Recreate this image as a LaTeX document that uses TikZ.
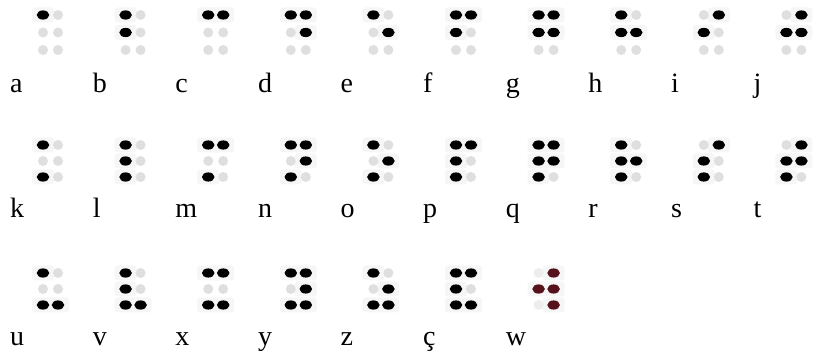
\documentclass[tikz,border=0pt]{standalone}
\usepackage{fontspec}
\setmainfont{Liberation Serif}
\definecolor{wred}{RGB}{85,18,28}
\tikzset{
  letter/.style={anchor=base west, inner sep=0pt, font=\fontsize{28}{32}\selectfont},
  halo/.style={fill=gray!7, rounded corners=3pt},
  emptydot/.style={fill=gray!25},
  lightdot/.style={fill=gray!14},
}
% #1 x of left column, #2 y of top row, #3 row step, #4 pattern (6 values, dots 1..6), #5 colour, #6 empty style
\newcommand\BrCell[6]{%
  \foreach \v [count=\i from 0] in {#4} {%
    \pgfmathsetmacro\cx{#1+15*int(\i/3)}%
    \pgfmathsetmacro\cy{#2+#3*mod(\i,3)}%
    \ifnum\v=1 \fill[halo] (\cx-11,\cy-7.5) rectangle (\cx+11,\cy+7.5);\fi
  }%
  \foreach \v [count=\i from 0] in {#4} {%
    \pgfmathsetmacro\cx{#1+15*int(\i/3)}%
    \pgfmathsetmacro\cy{#2+#3*mod(\i,3)}%
    \ifnum\v=0 \fill[#6] (\cx,\cy) circle (5);\fi
  }%
  \foreach \v [count=\i from 0] in {#4} {%
    \pgfmathsetmacro\cx{#1+15*int(\i/3)}%
    \pgfmathsetmacro\cy{#2+#3*mod(\i,3)}%
    \ifnum\v=1 \fill[#5] (\cx,\cy) ellipse (6.3 and 4.6);\fi
  }%
}
\begin{document}
\begin{tikzpicture}[x=1pt,y=-1pt]
\useasboundingbox (0,0) rectangle (817,355);
% ---- row 1 ----
\BrCell{43}{15}{17.5}{1,0,0,0,0,0}{black}{emptydot}
\BrCell{125.6}{15}{17.5}{1,1,0,0,0,0}{black}{emptydot}
\BrCell{208.2}{15}{17.5}{1,0,0,1,0,0}{black}{emptydot}
\BrCell{290.8}{15}{17.5}{1,0,0,1,1,0}{black}{emptydot}
\BrCell{373.4}{15}{17.5}{1,0,0,0,1,0}{black}{emptydot}
\BrCell{456}{15}{17.5}{1,1,0,1,0,0}{black}{emptydot}
\BrCell{538.6}{15}{17.5}{1,1,0,1,1,0}{black}{emptydot}
\BrCell{621.2}{15}{17.5}{1,1,0,0,1,0}{black}{emptydot}
\BrCell{703.8}{15}{17.5}{0,1,0,1,0,0}{black}{emptydot}
\BrCell{786.4}{15}{17.5}{0,1,0,1,1,0}{black}{emptydot}
\node[letter] (la) at (10,93) {a};
\node[letter] (lb) at (92.6,93) {b};
\node[letter] (lc) at (175.2,93) {c};
\node[letter] (ld) at (257.8,93) {d};
\node[letter] (le) at (340.4,93) {e};
\node[letter] (lf) at (423,93) {f};
\node[letter] (lg) at (505.6,93) {g};
\node[letter] (lh) at (588.2,93) {h};
\node[letter] (li) at (670.8,93) {i};
\node[letter] (lj) at (753.4,93) {j};
% ---- row 2 ----
\BrCell{43}{145}{16}{1,0,1,0,0,0}{black}{emptydot}
\BrCell{125.6}{145}{16}{1,1,1,0,0,0}{black}{emptydot}
\BrCell{208.2}{145}{16}{1,0,1,1,0,0}{black}{emptydot}
\BrCell{290.8}{145}{16}{1,0,1,1,1,0}{black}{emptydot}
\BrCell{373.4}{145}{16}{1,0,1,0,1,0}{black}{emptydot}
\BrCell{456}{145}{16}{1,1,1,1,0,0}{black}{emptydot}
\BrCell{538.6}{145}{16}{1,1,1,1,1,0}{black}{emptydot}
\BrCell{621.2}{145}{16}{1,1,1,0,1,0}{black}{emptydot}
\BrCell{703.8}{145}{16}{0,1,1,1,0,0}{black}{emptydot}
\BrCell{786.4}{145}{16}{0,1,1,1,1,0}{black}{emptydot}
\node[letter] (lk) at (10,218) {k};
\node[letter] (ll) at (92.6,218) {l};
\node[letter] (lm) at (175.2,218) {m};
\node[letter] (ln) at (257.8,218) {n};
\node[letter] (lo) at (340.4,218) {o};
\node[letter] (lp) at (423,218) {p};
\node[letter] (lq) at (505.6,218) {q};
\node[letter] (lr) at (588.2,218) {r};
\node[letter] (ls) at (670.8,218) {s};
\node[letter] (lt) at (753.4,218) {t};
% ---- row 3 ----
\BrCell{43}{273}{16}{1,0,1,0,0,1}{black}{emptydot}
\BrCell{125.6}{273}{16}{1,1,1,0,0,1}{black}{emptydot}
\BrCell{208.2}{273}{16}{1,0,1,1,0,1}{black}{emptydot}
\BrCell{290.8}{273}{16}{1,0,1,1,1,1}{black}{emptydot}
\BrCell{373.4}{273}{16}{1,0,1,0,1,1}{black}{emptydot}
\BrCell{456}{273}{16}{1,1,1,1,0,1}{black}{emptydot}
\BrCell{538.6}{273}{16}{0,1,0,1,1,1}{wred}{lightdot}
\node[letter] (lu) at (10,346) {u};
\node[letter] (lv) at (92.6,346) {v};
\node[letter] (lx) at (175.2,346) {x};
\node[letter] (ly) at (257.8,346) {y};
\node[letter] (lz) at (340.4,346) {z};
\node[letter] (lcc) at (423,346) {ç};
\node[letter] (lw) at (505.6,346) {w};
\end{tikzpicture}
\end{document}
